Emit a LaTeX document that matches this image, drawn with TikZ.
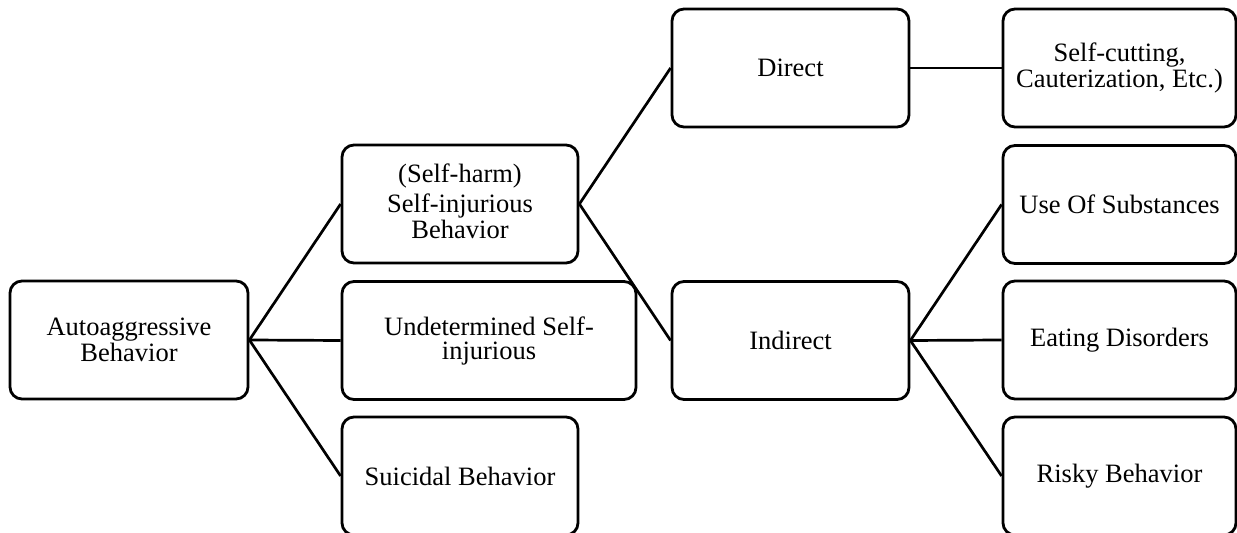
\documentclass[tikz,border=0pt]{standalone}
\usepackage{fontspec}
\setmainfont{Liberation Serif}
\begin{document}
\begin{tikzpicture}[x=0.5pt,y=-0.5pt,
  box/.style={draw=black, line width=1.4pt, rounded corners=6pt, fill=white,
    minimum height=59pt, inner sep=0pt, align=center,
    font=\fontsize{13.25}{12}\selectfont},
  link/.style={draw=black, line width=1.35pt}]
\useasboundingbox (0,0) rectangle (1237,533);
\clip (0,0) rectangle (1237,533);
% first level
\node[box, minimum width=119pt] (auto) at (129,340) {Autoaggressive\\Behavior};
% second level
\node[box, minimum width=118pt] (sib) at (460,204) {(Self-harm)\\[2pt]Self-injurious\\Behavior\\[-9pt]\mbox{}};
\node[box, minimum width=147pt] (und) at (489,340.5) {Undetermined Self-\\injurious};
\node[box, minimum width=118pt] (sui) at (460,476) {Suicidal Behavior};
% third level
\node[box, minimum width=118.5pt] (dir) at (790.5,68) {Direct};
\node[box, minimum width=118.5pt] (ind) at (790.5,340.5) {Indirect};
% leaves
\node[box, minimum width=116.5pt] (cut) at (1119.5,68) {Self-cutting,\\Cauterization, Etc.)};
\node[box, minimum width=116.5pt] (use) at (1119.5,204.5) {Use Of Substances};
\node[box, minimum width=116.5pt] (eat) at (1119.5,340) {Eating Disorders};
\node[box, minimum width=116.5pt] (risk) at (1119.5,476) {Risky Behavior};
% connectors
\draw[link] (auto.east) -- (sib.west);
\draw[link] (auto.east) -- (und.west);
\draw[link] (auto.east) -- (sui.west);
\draw[link] (sib.east) -- (dir.west);
\draw[link] (sib.east) -- (ind.west);
\draw[link] (dir.east) -- (cut.west);
\draw[link] (ind.east) -- (use.west);
\draw[link] (ind.east) -- (eat.west);
\draw[link] (ind.east) -- (risk.west);
\end{tikzpicture}
\end{document}
